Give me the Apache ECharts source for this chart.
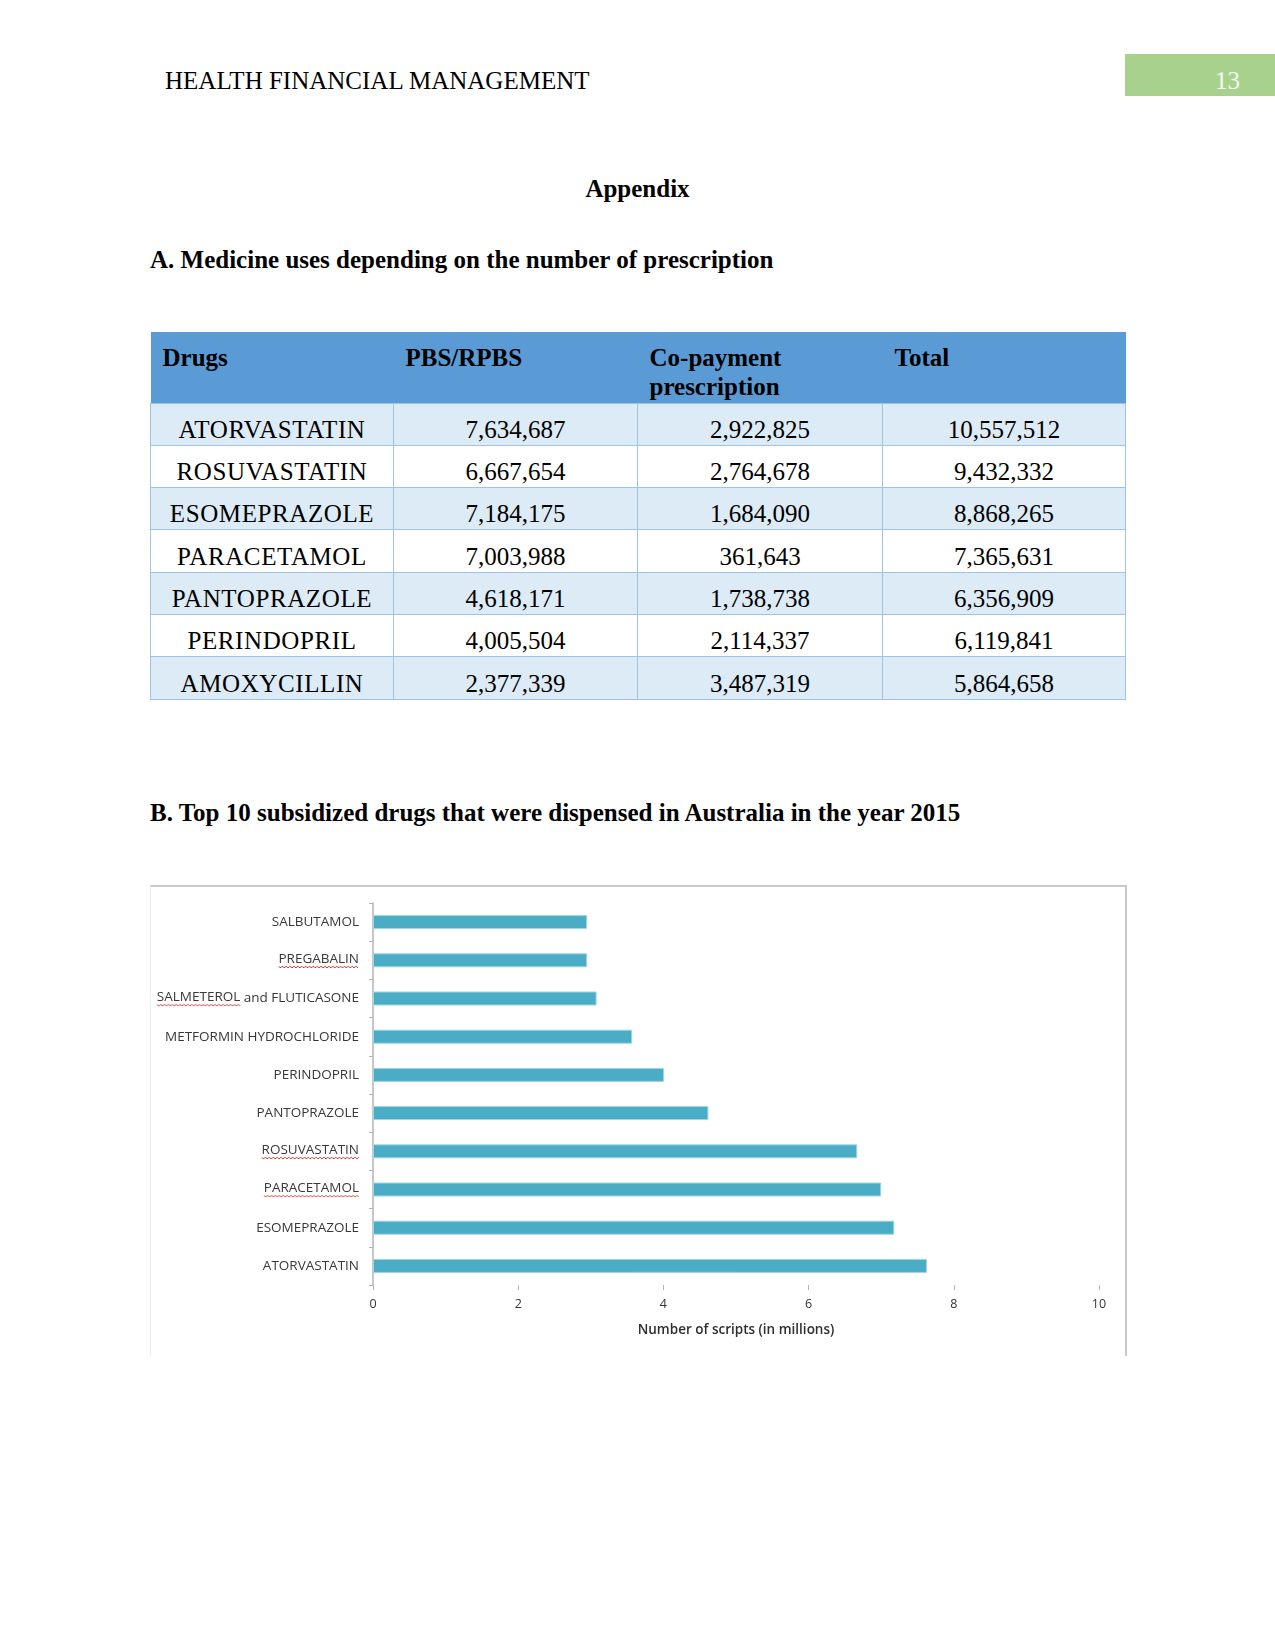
<!DOCTYPE html>
<html>
<head>
<meta charset="utf-8">
<script src="https://cdn.jsdelivr.net/npm/echarts@6/dist/echarts.min.js"></script>
<style>
  html, body { margin: 0; padding: 0; background: #fff; }
  body { width: 1275px; height: 1650px; position: relative; font-family: "Liberation Serif", "Times New Roman", serif; color: #000; }
  .abs { position: absolute; white-space: nowrap; }
  #runhead { left: 165px; top: 66px; font-size: 25px; line-height: 30px; }
  #pagebox { left: 1125px; top: 54px; width: 150px; height: 42px; background: #a9d18e; }
  #pagenum { left: 1215px; top: 66px; font-size: 25px; line-height: 30px; color: #f4f9f0; }
  #appendix { left: 0; width: 1275px; top: 174px; text-align: center; font-weight: bold; font-size: 25px; line-height: 30px; }
  #headA { left: 150px; top: 245px; font-weight: bold; font-size: 25px; line-height: 30px; }
  #headB { left: 150px; top: 798px; font-weight: bold; font-size: 25px; line-height: 30px; }
  table { position: absolute; left: 150px; top: 332px; width: 975px; border-collapse: collapse; table-layout: fixed; font-size: 25px; }
  th { background: #5b9bd5; height: 71px; text-align: left; vertical-align: top; padding: 11px 12px 0 12px; font-weight: bold; line-height: 29px; box-sizing: border-box; }
  td { height: 42.3px; text-align: center; vertical-align: bottom; border: 1px solid #9dc3e6; padding: 0 0 2px 0; line-height: 26px; box-sizing: border-box; }
  td.drug { letter-spacing: 0.6px; }
  tr.alt td { background: #ddebf7; }
  #chartbox { position: absolute; left: 150px; top: 885px; width: 974px; height: 469px; border-top: 2px solid #c9c9c9; border-right: 2px solid #c9c9c9; border-left: 1px solid #eeeeee; }
  #chart { width: 974px; height: 469px; }
</style>
</head>
<body>
<div class="abs" id="runhead">HEALTH FINANCIAL MANAGEMENT</div>
<div class="abs" id="pagebox"></div>
<div class="abs" id="pagenum">13</div>
<div class="abs" id="appendix">Appendix</div>
<div class="abs" id="headA">A. Medicine uses depending on the number of prescription</div>
<table id="tbl"></table>
<div class="abs" id="headB">B. Top 10 subsidized drugs that were dispensed in Australia in the year 2015</div>
<div id="chartbox"><div id="chart"></div></div>
<script>
// table data
var tableHeaders = ['Drugs', 'PBS/RPBS', 'Co-payment<br>prescription', 'Total'];
var tableDrugs = ['ATORVASTATIN', 'ROSUVASTATIN', 'ESOMEPRAZOLE', 'PARACETAMOL', 'PANTOPRAZOLE', 'PERINDOPRIL', 'AMOXYCILLIN'];
var pbsRpbs = [7634687, 6667654, 7184175, 7003988, 4618171, 4005504, 2377339];
var copayment = [2922825, 2764678, 1684090, 361643, 1738738, 2114337, 3487319];
var totals = [10557512, 9432332, 8868265, 7365631, 6356909, 6119841, 5864658];

// chart data (bottom to top)
var drugNames = ['ATORVASTATIN', 'ESOMEPRAZOLE', 'PARACETAMOL', 'ROSUVASTATIN', 'PANTOPRAZOLE',
  'PERINDOPRIL', 'METFORMIN HYDROCHLORIDE', 'SALMETEROL and FLUTICASONE', 'PREGABALIN', 'SALBUTAMOL'];
var scripts = [7.63, 7.18, 7.00, 6.67, 4.62, 4.01, 3.57, 3.08, 2.95, 2.95];
var xTicks = [0, 2, 4, 6, 8, 10];
// words with the red spell-check squiggle in the original screenshot
var squiggled = ['PARACETAMOL', 'ROSUVASTATIN', 'SALMETEROL', 'PREGABALIN'];

function fmt(n) { return n.toLocaleString('en-US'); }
var html = '<colgroup><col style="width:243px"><col style="width:244px"><col style="width:245px"><col style="width:243px"></colgroup>';
html += '<tr>' + tableHeaders.map(function (h) { return '<th>' + h + '</th>'; }).join('') + '</tr>';
tableDrugs.forEach(function (d, i) {
  html += '<tr class="' + (i % 2 === 0 ? 'alt' : '') + '"><td class="drug">' + d + '</td><td>' + fmt(pbsRpbs[i]) + '</td><td>' +
    fmt(copayment[i]) + '</td><td>' + fmt(totals[i]) + '</td></tr>';
});
document.getElementById('tbl').innerHTML = html;

var labelFont = '13.5px "Open Sans"';
var boxH = 20;
function squiggle(word) {
  var c = document.createElement('canvas');
  var ctx = c.getContext('2d');
  ctx.font = labelFont;
  var w = Math.ceil(ctx.measureText(word).width) + 2;
  c.width = w; c.height = boxH;
  ctx.strokeStyle = '#e0302a';
  ctx.lineWidth = 1;
  ctx.beginPath();
  for (var x = 0; x <= w; x += 2) {
    var y = (x / 2) % 2 === 0 ? boxH - 3 : boxH - 1;
    if (x === 0) ctx.moveTo(x, y); else ctx.lineTo(x, y);
  }
  ctx.stroke();
  return c;
}
var rich = {};
squiggled.forEach(function (word, i) {
  rich['s' + i] = {
    fontFamily: 'Open Sans', fontSize: 13.5, color: '#383838', lineHeight: 17,
    padding: [0, 0, 3, 0], backgroundColor: { image: squiggle(word) }
  };
});

var myChart = echarts.init(document.getElementById('chart'));
var option = {
  animation: false,
  backgroundColor: '#ffffff',
  grid: { left: 222, right: 26, top: 16, bottom: 71 },
  xAxis: {
    type: 'value',
    min: xTicks[0],
    max: xTicks[xTicks.length - 1],
    interval: 2,
    name: 'Number of scripts (in millions)',
    nameLocation: 'middle',
    nameGap: 38,
    nameTextStyle: { fontFamily: 'Open Sans', fontSize: 13.5, color: '#2e2e2e', fontWeight: 600 },
    axisLine: { lineStyle: { color: '#b5b5b5', width: 1.5 } },
    axisTick: { show: true, length: 5, lineStyle: { color: '#b5b5b5' } },
    axisLabel: { fontFamily: 'Open Sans', fontSize: 12.5, color: '#333', margin: 13 },
    splitLine: { show: false }
  },
  yAxis: {
    type: 'category',
    data: drugNames,
    axisLine: { lineStyle: { color: '#b5b5b5', width: 1.5 } },
    axisTick: { show: true, length: 4, lineStyle: { color: '#b5b5b5' } },
    axisLabel: {
      fontFamily: 'Open Sans', fontSize: 13.5, color: '#383838', margin: 14,
      rich: rich,
      formatter: function (name) {
        for (var i = 0; i < squiggled.length; i++) {
          var w = squiggled[i];
          if (name.indexOf(w) === 0) {
            return '{s' + i + '|' + w + '}' + name.slice(w.length);
          }
        }
        return name;
      }
    }
  },
  series: [{
    type: 'bar',
    data: scripts,
    barWidth: 14,
    itemStyle: { color: '#4bacc6', borderColor: '#9fd6e3', borderWidth: 1 }
  }]
};
myChart.setOption(option, true);
</script>
</body>
</html>
